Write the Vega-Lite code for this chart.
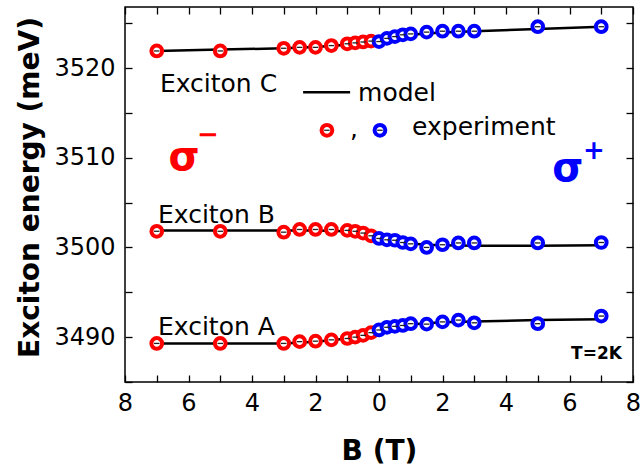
{
  "$schema": "https://vega.github.io/schema/vega-lite/v6.json",
  "width": 508,
  "height": 375,
  "autosize": {"type": "none"},
  "padding": {"left": 125, "top": 7, "right": 8, "bottom": 90},
  "config": {
    "view": {"stroke": "black", "strokeWidth": 1.5},
    "font": "DejaVu Sans",
    "axis": {"grid": false, "domain": false, "tickColor": "black", "tickWidth": 1.3, "labelColor": "black", "titleColor": "black", "labelFont": "DejaVu Sans", "titleFont": "DejaVu Sans"}
  },
  "datasets": {
    "points": [
      {"B": -7, "E": 3521.9, "exciton": "C", "pol": "minus"},
      {"B": -5, "E": 3521.9, "exciton": "C", "pol": "minus"},
      {"B": -3, "E": 3522.2, "exciton": "C", "pol": "minus"},
      {"B": -2.5, "E": 3522.3, "exciton": "C", "pol": "minus"},
      {"B": -2, "E": 3522.3, "exciton": "C", "pol": "minus"},
      {"B": -1.5, "E": 3522.5, "exciton": "C", "pol": "minus"},
      {"B": -1, "E": 3522.7, "exciton": "C", "pol": "minus"},
      {"B": -0.75, "E": 3522.8, "exciton": "C", "pol": "minus"},
      {"B": -0.5, "E": 3522.9, "exciton": "C", "pol": "minus"},
      {"B": -0.25, "E": 3523.0, "exciton": "C", "pol": "minus"},
      {"B": -7, "E": 3501.8, "exciton": "B", "pol": "minus"},
      {"B": -5, "E": 3501.8, "exciton": "B", "pol": "minus"},
      {"B": -3, "E": 3501.7, "exciton": "B", "pol": "minus"},
      {"B": -2.5, "E": 3502.0, "exciton": "B", "pol": "minus"},
      {"B": -2, "E": 3502.0, "exciton": "B", "pol": "minus"},
      {"B": -1.5, "E": 3502.0, "exciton": "B", "pol": "minus"},
      {"B": -1, "E": 3501.9, "exciton": "B", "pol": "minus"},
      {"B": -0.75, "E": 3501.8, "exciton": "B", "pol": "minus"},
      {"B": -0.5, "E": 3501.6, "exciton": "B", "pol": "minus"},
      {"B": -0.25, "E": 3501.3, "exciton": "B", "pol": "minus"},
      {"B": -7, "E": 3489.3, "exciton": "A", "pol": "minus"},
      {"B": -5, "E": 3489.3, "exciton": "A", "pol": "minus"},
      {"B": -3, "E": 3489.3, "exciton": "A", "pol": "minus"},
      {"B": -2.5, "E": 3489.5, "exciton": "A", "pol": "minus"},
      {"B": -2, "E": 3489.55, "exciton": "A", "pol": "minus"},
      {"B": -1.5, "E": 3489.7, "exciton": "A", "pol": "minus"},
      {"B": -1, "E": 3489.85, "exciton": "A", "pol": "minus"},
      {"B": -0.75, "E": 3490.0, "exciton": "A", "pol": "minus"},
      {"B": -0.5, "E": 3490.2, "exciton": "A", "pol": "minus"},
      {"B": -0.25, "E": 3490.5, "exciton": "A", "pol": "minus"},
      {"B": 0, "E": 3522.95, "exciton": "C", "pol": "plus"},
      {"B": 0.25, "E": 3523.3, "exciton": "C", "pol": "plus"},
      {"B": 0.5, "E": 3523.5, "exciton": "C", "pol": "plus"},
      {"B": 0.75, "E": 3523.7, "exciton": "C", "pol": "plus"},
      {"B": 1, "E": 3523.8, "exciton": "C", "pol": "plus"},
      {"B": 1.5, "E": 3524.0, "exciton": "C", "pol": "plus"},
      {"B": 2, "E": 3524.1, "exciton": "C", "pol": "plus"},
      {"B": 2.5, "E": 3524.1, "exciton": "C", "pol": "plus"},
      {"B": 3, "E": 3524.1, "exciton": "C", "pol": "plus"},
      {"B": 5, "E": 3524.6, "exciton": "C", "pol": "plus"},
      {"B": 7, "E": 3524.6, "exciton": "C", "pol": "plus"},
      {"B": 0, "E": 3501.0, "exciton": "B", "pol": "plus"},
      {"B": 0.25, "E": 3500.85, "exciton": "B", "pol": "plus"},
      {"B": 0.5, "E": 3500.8, "exciton": "B", "pol": "plus"},
      {"B": 0.75, "E": 3500.55, "exciton": "B", "pol": "plus"},
      {"B": 1, "E": 3500.4, "exciton": "B", "pol": "plus"},
      {"B": 1.5, "E": 3500.0, "exciton": "B", "pol": "plus"},
      {"B": 2, "E": 3500.3, "exciton": "B", "pol": "plus"},
      {"B": 2.5, "E": 3500.5, "exciton": "B", "pol": "plus"},
      {"B": 3, "E": 3500.5, "exciton": "B", "pol": "plus"},
      {"B": 5, "E": 3500.5, "exciton": "B", "pol": "plus"},
      {"B": 7, "E": 3500.55, "exciton": "B", "pol": "plus"},
      {"B": 0, "E": 3490.8, "exciton": "A", "pol": "plus"},
      {"B": 0.25, "E": 3491.1, "exciton": "A", "pol": "plus"},
      {"B": 0.5, "E": 3491.2, "exciton": "A", "pol": "plus"},
      {"B": 0.75, "E": 3491.3, "exciton": "A", "pol": "plus"},
      {"B": 1, "E": 3491.5, "exciton": "A", "pol": "plus"},
      {"B": 1.5, "E": 3491.45, "exciton": "A", "pol": "plus"},
      {"B": 2, "E": 3491.7, "exciton": "A", "pol": "plus"},
      {"B": 2.5, "E": 3491.9, "exciton": "A", "pol": "plus"},
      {"B": 3, "E": 3491.6, "exciton": "A", "pol": "plus"},
      {"B": 5, "E": 3491.5, "exciton": "A", "pol": "plus"},
      {"B": 7, "E": 3492.35, "exciton": "A", "pol": "plus"},
      {"B": -1.64, "E": 3513.06, "exciton": "legend", "pol": "minus"},
      {"B": 0.03, "E": 3513.06, "exciton": "legend", "pol": "plus"}
    ],
    "model": [
      {"B": -7, "E": 3521.9, "exciton": "C"},
      {"B": -5, "E": 3522.05, "exciton": "C"},
      {"B": -3, "E": 3522.2, "exciton": "C"},
      {"B": -2, "E": 3522.35, "exciton": "C"},
      {"B": -1, "E": 3522.6, "exciton": "C"},
      {"B": -0.5, "E": 3522.8, "exciton": "C"},
      {"B": 0, "E": 3523.0, "exciton": "C"},
      {"B": 0.5, "E": 3523.4, "exciton": "C"},
      {"B": 1, "E": 3523.7, "exciton": "C"},
      {"B": 1.5, "E": 3523.85, "exciton": "C"},
      {"B": 2, "E": 3523.95, "exciton": "C"},
      {"B": 3, "E": 3524.1, "exciton": "C"},
      {"B": 5, "E": 3524.35, "exciton": "C"},
      {"B": 7, "E": 3524.6, "exciton": "C"},
      {"B": -7, "E": 3501.9, "exciton": "B"},
      {"B": -5, "E": 3501.9, "exciton": "B"},
      {"B": -3, "E": 3501.9, "exciton": "B"},
      {"B": -2, "E": 3501.9, "exciton": "B"},
      {"B": -1, "E": 3501.8, "exciton": "B"},
      {"B": -0.5, "E": 3501.6, "exciton": "B"},
      {"B": 0, "E": 3501.1, "exciton": "B"},
      {"B": 0.5, "E": 3500.7, "exciton": "B"},
      {"B": 1, "E": 3500.45, "exciton": "B"},
      {"B": 1.5, "E": 3500.3, "exciton": "B"},
      {"B": 2, "E": 3500.25, "exciton": "B"},
      {"B": 3, "E": 3500.2, "exciton": "B"},
      {"B": 5, "E": 3500.2, "exciton": "B"},
      {"B": 7, "E": 3500.25, "exciton": "B"},
      {"B": -7, "E": 3489.3, "exciton": "A"},
      {"B": -5, "E": 3489.3, "exciton": "A"},
      {"B": -3, "E": 3489.3, "exciton": "A"},
      {"B": -2, "E": 3489.5, "exciton": "A"},
      {"B": -1, "E": 3489.85, "exciton": "A"},
      {"B": -0.5, "E": 3490.2, "exciton": "A"},
      {"B": 0, "E": 3490.8, "exciton": "A"},
      {"B": 0.5, "E": 3491.2, "exciton": "A"},
      {"B": 1, "E": 3491.4, "exciton": "A"},
      {"B": 1.5, "E": 3491.55, "exciton": "A"},
      {"B": 2, "E": 3491.65, "exciton": "A"},
      {"B": 3, "E": 3491.75, "exciton": "A"},
      {"B": 5, "E": 3491.9, "exciton": "A"},
      {"B": 7, "E": 3492.0, "exciton": "A"}
    ],
    "legendline": [{"B": -2.39, "B2": -0.91, "E": 3517.3}],
    "labels": [
      {"B": -6.9, "E": 3518.2, "label": "Exciton C"},
      {"B": -6.96, "E": 3503.65, "label": "Exciton B"},
      {"B": -6.96, "E": 3491.15, "label": "Exciton A"},
      {"B": -0.66, "E": 3517.2, "label": "model"},
      {"B": 1.04, "E": 3513.4, "label": "experiment"}
    ],
    "comma": [{"B": -0.79, "E": 3512.27, "label": ","}],
    "sigma": [
      {"B": -6.14, "E": 3510.0, "label": "σ", "pol": "minus"},
      {"B": 5.95, "E": 3508.7, "label": "σ", "pol": "plus"}
    ],
    "sup": [
      {"B": -5.39, "E": 3512.5, "label": "−", "pol": "minus"},
      {"B": 6.77, "E": 3510.8, "label": "+", "pol": "plus"}
    ],
    "temp": [{"B": 7.65, "E": 3488.1, "label": "T=2K"}]
  },
  "resolve": {"axis": {"x": "independent", "y": "independent"}},
  "layer": [
    {
      "data": {"name": "model"},
      "mark": {"type": "line", "color": "black", "strokeWidth": 2.5},
      "encoding": {
        "x": {"field": "B", "type": "quantitative", "scale": {"domain": [-8, 8], "nice": false, "zero": false},
          "axis": {"orient": "bottom", "values": [-8, -7, -6, -5, -4, -3, -2, -1, 0, 1, 2, 3, 4, 5, 6, 7, 8], "tickSize": -7, "labelPadding": 16, "labelFontSize": 24, "labelExpr": "datum.value % 2 == 0 ? format(abs(datum.value), 'd') : ''", "labelFlush": false, "title": "B (T)", "titleFontSize": 28, "titleFontWeight": "bold", "titleX": 254, "titleY": 69, "titleBaseline": "middle", "titleAlign": "center"}},
        "y": {"field": "E", "type": "quantitative", "scale": {"domain": [3485, 3526.8], "nice": false, "zero": false},
          "axis": {"orient": "left", "values": [3485, 3490, 3495, 3500, 3505, 3510, 3515, 3520, 3525], "tickSize": -7, "labelPadding": 17, "labelFontSize": 24, "labelExpr": "datum.value % 10 == 0 ? format(datum.value, 'd') : ''", "labelFlush": false, "title": "Exciton energy (meV)", "titleFontSize": 28, "titleFontWeight": "bold", "titleAngle": -90, "titleX": -95, "titleY": 180, "titleAlign": "center", "titleBaseline": "middle"}},
        "detail": {"field": "exciton"}
      }
    },
    {
      "data": {"name": "legendline"},
      "mark": {"type": "rule", "color": "black", "strokeWidth": 2.5},
      "encoding": {
        "x": {"field": "B", "type": "quantitative", "axis": {"orient": "top", "values": [-8, -7, -6, -5, -4, -3, -2, -1, 0, 1, 2, 3, 4, 5, 6, 7, 8], "tickSize": -7, "labels": false, "title": null}},
        "x2": {"field": "B2"},
        "y": {"field": "E", "type": "quantitative", "axis": {"orient": "right", "values": [3485, 3490, 3495, 3500, 3505, 3510, 3515, 3520, 3525], "tickSize": -7, "labels": false, "title": null}}
      }
    },
    {
      "data": {"name": "points"},
      "mark": {"type": "point", "shape": "circle", "filled": false, "fill": "white", "fillOpacity": 1, "strokeWidth": 4, "size": 115, "opacity": 1},
      "encoding": {
        "x": {"field": "B", "type": "quantitative", "axis": null},
        "y": {"field": "E", "type": "quantitative", "axis": null},
        "stroke": {"field": "pol", "type": "nominal", "scale": {"domain": ["minus", "plus"], "range": ["#ff0000", "#0000ff"]}, "legend": null}
      }
    },
    {
      "data": {"name": "points"},
      "mark": {"type": "point", "shape": "stroke", "size": 30, "strokeWidth": 1.3, "color": "#222222", "opacity": 1},
      "encoding": {
        "x": {"field": "B", "type": "quantitative", "axis": null},
        "y": {"field": "E", "type": "quantitative", "axis": null}
      }
    },
    {
      "data": {"name": "labels"},
      "mark": {"type": "text", "fontSize": 25, "align": "left", "baseline": "middle", "color": "black"},
      "encoding": {
        "x": {"field": "B", "type": "quantitative", "axis": null},
        "y": {"field": "E", "type": "quantitative", "axis": null},
        "text": {"field": "label"}
      }
    },
    {
      "data": {"name": "comma"},
      "mark": {"type": "text", "fontSize": 25, "align": "center", "baseline": "alphabetic", "color": "black"},
      "encoding": {
        "x": {"field": "B", "type": "quantitative", "axis": null},
        "y": {"field": "E", "type": "quantitative", "axis": null},
        "text": {"field": "label"}
      }
    },
    {
      "data": {"name": "sigma"},
      "mark": {"type": "text", "fontSize": 40, "fontWeight": "bold", "align": "center", "baseline": "middle"},
      "encoding": {
        "x": {"field": "B", "type": "quantitative", "axis": null},
        "y": {"field": "E", "type": "quantitative", "axis": null},
        "text": {"field": "label"},
        "color": {"field": "pol", "type": "nominal", "scale": {"domain": ["minus", "plus"], "range": ["#ff0000", "#0000ff"]}, "legend": null}
      }
    },
    {
      "data": {"name": "sup"},
      "mark": {"type": "text", "fontSize": 26, "fontWeight": "bold", "align": "center", "baseline": "middle"},
      "encoding": {
        "x": {"field": "B", "type": "quantitative", "axis": null},
        "y": {"field": "E", "type": "quantitative", "axis": null},
        "text": {"field": "label"},
        "color": {"field": "pol", "type": "nominal", "scale": {"domain": ["minus", "plus"], "range": ["#ff0000", "#0000ff"]}, "legend": null}
      }
    },
    {
      "data": {"name": "temp"},
      "mark": {"type": "text", "fontSize": 17, "fontWeight": "bold", "align": "right", "baseline": "middle", "color": "black"},
      "encoding": {
        "x": {"field": "B", "type": "quantitative", "axis": null},
        "y": {"field": "E", "type": "quantitative", "axis": null},
        "text": {"field": "label"}
      }
    }
  ]
}
